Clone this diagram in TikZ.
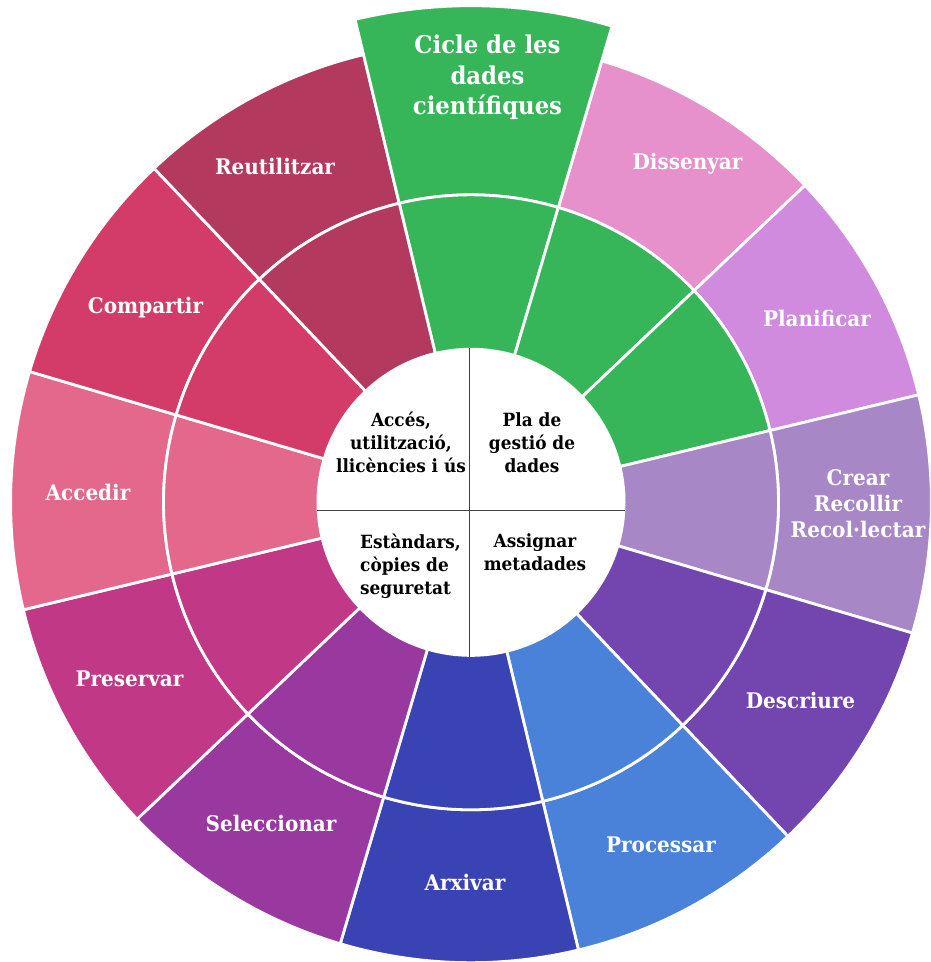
\documentclass[tikz,border=0pt]{standalone}
\usepackage{fontspec}
\setmainfont{DejaVu Serif}[FakeStretch=0.93]
\definecolor{cgreen}{HTML}{37B559}
\definecolor{cdis}{HTML}{E690CC}
\definecolor{cpla}{HTML}{D08ADE}
\definecolor{ccre}{HTML}{A887C7}
\definecolor{cdes}{HTML}{7246AE}
\definecolor{cpro}{HTML}{4A82DA}
\definecolor{carx}{HTML}{3A43B4}
\definecolor{csel}{HTML}{99389F}
\definecolor{cpre}{HTML}{C13887}
\definecolor{cacc}{HTML}{E3688C}
\definecolor{ccom}{HTML}{D33C68}
\definecolor{creu}{HTML}{B3395E}
\tikzset{
  seg/.style={draw=white, line width=2.8pt, line join=round},
  lbl/.style={text=white, font=\bfseries\fontsize{21.5}{26}\selectfont, inner sep=0pt, anchor=base, align=center},
  bigl/.style={text=white, font=\bfseries\fontsize{24.5}{30.5}\selectfont, inner sep=0pt, anchor=base, align=center},
  ctr/.style={text=black, font=\bfseries\fontsize{18.2}{23}\selectfont, inner sep=0pt, anchor=base, align=center},
  divider/.style={draw=black!75, line width=1pt},
}
\newcommand\ringseg[5]{\path[seg, fill=#1] (#2:#4) arc[start angle=#2, end angle=#3, radius=#4] -- (#3:#5) arc[start angle=#3, end angle=#2, radius=#5] -- cycle;}
\begin{document}
\begin{tikzpicture}[x=1pt,y=1pt]
\useasboundingbox (0,0) rectangle (930,962);
\clip (0,0) rectangle (930,962);
\begin{scope}[shift={(471,459.7)}]
  % outer ring
  \ringseg{cdis}{43.5}{73.5}{307.5}{460.4}
  \ringseg{cpla}{13.5}{43.5}{307.5}{460.4}
  \ringseg{ccre}{-16.5}{13.5}{307.5}{460.4}
  \ringseg{cdes}{-46.5}{-16.5}{307.5}{460.4}
  \ringseg{cpro}{-76.5}{-46.5}{307.5}{460.4}
  \ringseg{carx}{-106.5}{-76.5}{307.5}{460.4}
  \ringseg{csel}{-136.5}{-106.5}{307.5}{460.4}
  \ringseg{cpre}{-166.5}{-136.5}{307.5}{460.4}
  \ringseg{cacc}{-196.5}{-166.5}{307.5}{460.4}
  \ringseg{ccom}{133.5}{163.5}{307.5}{460.4}
  \ringseg{creu}{103.5}{133.5}{307.5}{460.4}
  \ringseg{cgreen}{73.5}{103.5}{307.5}{496.6}
  % middle ring
  \ringseg{cgreen}{73.5}{103.5}{150}{307.5}
  \ringseg{cgreen}{43.5}{73.5}{150}{307.5}
  \ringseg{cgreen}{13.5}{43.5}{150}{307.5}
  \ringseg{ccre}{-16.5}{13.5}{150}{307.5}
  \ringseg{cdes}{-46.5}{-16.5}{150}{307.5}
  \ringseg{cpro}{-76.5}{-46.5}{150}{307.5}
  \ringseg{carx}{-106.5}{-76.5}{150}{307.5}
  \ringseg{csel}{-136.5}{-106.5}{150}{307.5}
  \ringseg{cpre}{-166.5}{-136.5}{150}{307.5}
  \ringseg{cacc}{-196.5}{-166.5}{150}{307.5}
  \ringseg{ccom}{133.5}{163.5}{150}{307.5}
  \ringseg{creu}{103.5}{133.5}{150}{307.5}
  % centre disc
  \fill[white] (0,0) circle[radius=154.5];
\end{scope}
% dividers of the centre
\coordinate (vt) at (469.3,613.7);
\coordinate (vb) at (469.3,305.3);
\coordinate (hl) at (316.7,451);
\coordinate (hr) at (625,451);
\draw[divider] (vt) -- (vb);
\draw[divider] (hl) -- (hr);
% outer labels
\node[bigl] (cicle) at (487.5,847) {Cicle de les\\dades\\científiques};
\node[lbl] (dis) at (687.5,792) {Dissenyar};
\node[lbl] (pla) at (817,635) {Planificar};
\node[lbl] (cre) at (858,424) {Crear\\Recollir\\Recol·lectar};
\node[lbl] (des) at (800.5,253) {Descriure};
\node[lbl] (pro) at (661,109) {Processar};
\node[lbl] (arx) at (465,71) {Arxivar};
\node[lbl] (sel) at (271,130) {Seleccionar};
\node[lbl] (pre) at (129.5,275) {Preservar};
\node[lbl] (acc) at (88,461) {Accedir};
\node[lbl] (com) at (145.5,648) {Compartir};
\node[lbl] (reu) at (275,787) {Reutilitzar};
% centre labels
\node[ctr] (q1) at (401,489) {Accés,\\utilització,\\llicències i ús};
\node[ctr] (q2) at (532,489) {Pla de\\gestió de\\dades};
\node[ctr, anchor=base west, align=left] (q3) at (360,367) {Estàndars,\\còpies de\\seguretat};
\node[ctr] (q4) at (535,391) {Assignar\\metadades};
\end{tikzpicture}
\end{document}
